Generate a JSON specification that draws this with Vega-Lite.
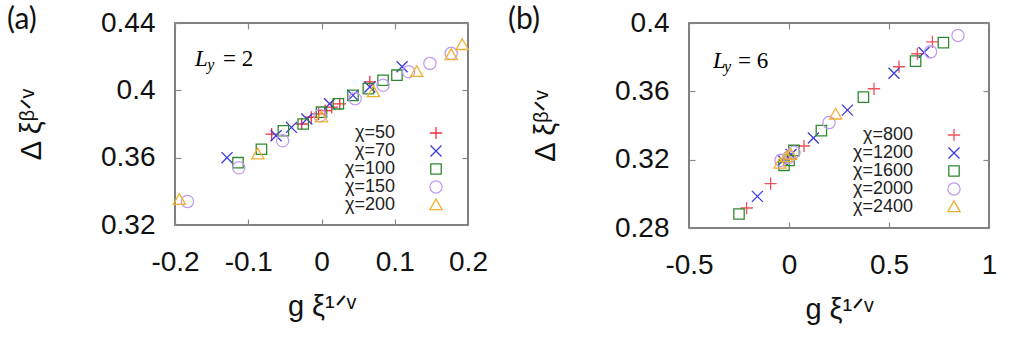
{
  "$schema": "https://vega.github.io/schema/vega-lite/v6.json",
  "background": "white",
  "padding": {"left": 6, "top": 4, "right": 5, "bottom": 2},
  "datasets": {
    "a": [
      {"chi": "χ=50", "x": -0.068, "y": 0.374},
      {"chi": "χ=50", "x": -0.027, "y": 0.380},
      {"chi": "χ=50", "x": -0.014, "y": 0.384},
      {"chi": "χ=50", "x": -0.004, "y": 0.386},
      {"chi": "χ=50", "x": 0.005, "y": 0.388},
      {"chi": "χ=50", "x": 0.014, "y": 0.390},
      {"chi": "χ=50", "x": 0.025, "y": 0.392},
      {"chi": "χ=50", "x": 0.066, "y": 0.405},
      {"chi": "χ=70", "x": -0.129, "y": 0.360},
      {"chi": "χ=70", "x": -0.062, "y": 0.373},
      {"chi": "χ=70", "x": -0.041, "y": 0.378},
      {"chi": "χ=70", "x": -0.020, "y": 0.383},
      {"chi": "χ=70", "x": 0.011, "y": 0.392},
      {"chi": "χ=70", "x": 0.043, "y": 0.397},
      {"chi": "χ=70", "x": 0.066, "y": 0.402},
      {"chi": "χ=70", "x": 0.110, "y": 0.414},
      {"chi": "χ=100", "x": -0.114, "y": 0.357},
      {"chi": "χ=100", "x": -0.082, "y": 0.365},
      {"chi": "χ=100", "x": -0.052, "y": 0.376},
      {"chi": "χ=100", "x": -0.025, "y": 0.380},
      {"chi": "χ=100", "x": 0.000, "y": 0.387},
      {"chi": "χ=100", "x": 0.023, "y": 0.392},
      {"chi": "χ=100", "x": 0.043, "y": 0.397},
      {"chi": "χ=100", "x": 0.064, "y": 0.401},
      {"chi": "χ=100", "x": 0.084, "y": 0.406},
      {"chi": "χ=100", "x": 0.103, "y": 0.409},
      {"chi": "χ=150", "x": -0.183, "y": 0.334},
      {"chi": "χ=150", "x": -0.113, "y": 0.354},
      {"chi": "χ=150", "x": -0.053, "y": 0.370},
      {"chi": "χ=150", "x": -0.002, "y": 0.385},
      {"chi": "χ=150", "x": 0.046, "y": 0.395},
      {"chi": "χ=150", "x": 0.084, "y": 0.403},
      {"chi": "χ=150", "x": 0.119, "y": 0.411},
      {"chi": "χ=150", "x": 0.148, "y": 0.416},
      {"chi": "χ=150", "x": 0.177, "y": 0.422},
      {"chi": "χ=200", "x": -0.194, "y": 0.335},
      {"chi": "χ=200", "x": -0.087, "y": 0.362},
      {"chi": "χ=200", "x": 0.000, "y": 0.384},
      {"chi": "χ=200", "x": 0.071, "y": 0.399},
      {"chi": "χ=200", "x": 0.130, "y": 0.411},
      {"chi": "χ=200", "x": 0.177, "y": 0.421},
      {"chi": "χ=200", "x": 0.192, "y": 0.427}
    ],
    "b": [
      {"chi": "χ=800", "x": -0.212, "y": 0.2917},
      {"chi": "χ=800", "x": -0.092, "y": 0.306},
      {"chi": "χ=800", "x": -0.010, "y": 0.3205},
      {"chi": "χ=800", "x": 0.075, "y": 0.328},
      {"chi": "χ=800", "x": 0.425, "y": 0.3615},
      {"chi": "χ=800", "x": 0.550, "y": 0.3744},
      {"chi": "χ=800", "x": 0.642, "y": 0.382},
      {"chi": "χ=800", "x": 0.717, "y": 0.389},
      {"chi": "χ=1200", "x": -0.158, "y": 0.2985},
      {"chi": "χ=1200", "x": -0.030, "y": 0.3195},
      {"chi": "χ=1200", "x": 0.010, "y": 0.323},
      {"chi": "χ=1200", "x": 0.122, "y": 0.3327},
      {"chi": "χ=1200", "x": 0.292, "y": 0.349},
      {"chi": "χ=1200", "x": 0.525, "y": 0.3706},
      {"chi": "χ=1200", "x": 0.675, "y": 0.3827},
      {"chi": "χ=1600", "x": -0.250, "y": 0.2882},
      {"chi": "χ=1600", "x": -0.025, "y": 0.3167},
      {"chi": "χ=1600", "x": 0.000, "y": 0.3196},
      {"chi": "χ=1600", "x": 0.025, "y": 0.3254},
      {"chi": "χ=1600", "x": 0.162, "y": 0.337},
      {"chi": "χ=1600", "x": 0.372, "y": 0.3566},
      {"chi": "χ=1600", "x": 0.633, "y": 0.3777},
      {"chi": "χ=1600", "x": 0.772, "y": 0.3885},
      {"chi": "χ=2000", "x": -0.040, "y": 0.3196},
      {"chi": "χ=2000", "x": 0.000, "y": 0.3215},
      {"chi": "χ=2000", "x": 0.025, "y": 0.3244},
      {"chi": "χ=2000", "x": 0.200, "y": 0.3417},
      {"chi": "χ=2000", "x": 0.708, "y": 0.3831},
      {"chi": "χ=2000", "x": 0.845, "y": 0.3927},
      {"chi": "χ=2400", "x": -0.045, "y": 0.3177},
      {"chi": "χ=2400", "x": -0.013, "y": 0.3215},
      {"chi": "χ=2400", "x": 0.008, "y": 0.323},
      {"chi": "χ=2400", "x": 0.233, "y": 0.3465}
    ]
  },
  "hconcat": [
    {
      "width": 293,
      "height": 202,
      "title": {"text": "(a)", "dx": -168, "offset": -26},
      "layer": [
        {
          "data": {"name": "a"},
          "mark": {"type": "point", "filled": false, "strokeWidth": 1.3, "size": 150, "opacity": 1},
          "encoding": {
            "x": {"field": "x", "type": "quantitative",
                  "scale": {"domain": [-0.2, 0.2], "nice": false, "zero": false},
                  "axis": {"values": [-0.2, -0.1, 0, 0.1, 0.2], "labelExpr": "'' + datum.value", "title": "g ξ¹ᐟᵛ"}},
            "y": {"field": "y", "type": "quantitative",
                  "scale": {"domain": [0.32, 0.44], "nice": false, "zero": false},
                  "axis": {"values": [0.32, 0.36, 0.4, 0.44], "labelExpr": "'' + datum.value", "title": "Δ ξᵝᐟᵛ"}},
            "color": {"field": "chi", "type": "nominal",
                      "scale": {"domain": ["χ=50", "χ=70", "χ=100", "χ=150", "χ=200"],
                                "range": ["#ee3040", "#3a3ae0", "#2f8a2f", "#c09cf0", "#f0b030"]},
                      "legend": {"orient": "none", "legendX": 252, "legendY": 101, "title": null}},
            "shape": {"field": "chi", "type": "nominal",
                      "scale": {"domain": ["χ=50", "χ=70", "χ=100", "χ=150", "χ=200"],
                                "range": ["M-1,0H1M0,-1V1", "M-0.9,-0.9L0.9,0.9M-0.9,0.9L0.9,-0.9", "M-0.85,-0.85H0.85V0.85H-0.85Z", "circle", "M0,-1L1,0.75H-1Z"]},
                      "legend": {"orient": "none", "legendX": 252, "legendY": 101, "title": null}}
          }
        },
        {
          "data": {"values": [{}]},
          "mark": {"type": "text", "text": "L", "font": "Liberation Serif", "fontStyle": "italic", "fontSize": 23, "align": "left", "baseline": "alphabetic"},
          "encoding": {
            "x": {"datum": -0.1727, "type": "quantitative",
                  "scale": {"domain": [-0.2, 0.2], "nice": false, "zero": false},
                  "axis": {"orient": "top", "values": [-0.2, -0.1, 0, 0.1, 0.2], "labels": false, "title": null}},
            "y": {"datum": 0.4145, "type": "quantitative",
                  "scale": {"domain": [0.32, 0.44], "nice": false, "zero": false},
                  "axis": {"orient": "right", "values": [0.32, 0.36, 0.4, 0.44], "labels": false, "title": null}}
          }
        },
        {
          "data": {"values": [{}]},
          "mark": {"type": "text", "text": "y", "font": "Liberation Serif", "fontStyle": "italic", "fontSize": 16, "align": "left", "baseline": "alphabetic"},
          "encoding": {
            "x": {"datum": -0.156, "type": "quantitative", "axis": null},
            "y": {"datum": 0.4118, "type": "quantitative", "axis": null}
          }
        },
        {
          "data": {"values": [{}]},
          "mark": {"type": "text", "text": "=  2", "font": "Liberation Serif", "fontSize": 23, "align": "left", "baseline": "alphabetic"},
          "encoding": {
            "x": {"datum": -0.1345, "type": "quantitative", "axis": null},
            "y": {"datum": 0.4145, "type": "quantitative", "axis": null}
          }
        }
      ],
      "resolve": {"axis": {"x": "independent", "y": "independent"}}
    },
    {
      "width": 300,
      "height": 205,
      "title": {"text": "(b)", "dx": -181, "offset": -26},
      "layer": [
        {
          "data": {"name": "b"},
          "mark": {"type": "point", "filled": false, "strokeWidth": 1.3, "size": 150, "opacity": 1},
          "encoding": {
            "x": {"field": "x", "type": "quantitative",
                  "scale": {"domain": [-0.5, 1], "nice": false, "zero": false},
                  "axis": {"values": [-0.5, 0, 0.5, 1], "labelExpr": "'' + datum.value", "title": "g ξ¹ᐟᵛ"}},
            "y": {"field": "y", "type": "quantitative",
                  "scale": {"domain": [0.28, 0.4], "nice": false, "zero": false},
                  "axis": {"values": [0.28, 0.32, 0.36, 0.4], "labelExpr": "'' + datum.value", "title": "Δ ξᵝᐟᵛ"}},
            "color": {"field": "chi", "type": "nominal",
                      "scale": {"domain": ["χ=800", "χ=1200", "χ=1600", "χ=2000", "χ=2400"],
                                "range": ["#f0505e", "#3a3ae0", "#2f8a2f", "#c09cf0", "#f0b030"]},
                      "legend": {"orient": "none", "legendX": 256, "legendY": 103, "title": null}},
            "shape": {"field": "chi", "type": "nominal",
                      "scale": {"domain": ["χ=800", "χ=1200", "χ=1600", "χ=2000", "χ=2400"],
                                "range": ["M-1,0H1M0,-1V1", "M-0.9,-0.9L0.9,0.9M-0.9,0.9L0.9,-0.9", "M-0.85,-0.85H0.85V0.85H-0.85Z", "circle", "M0,-1L1,0.75H-1Z"]},
                      "legend": {"orient": "none", "legendX": 256, "legendY": 103, "title": null}}
          }
        },
        {
          "data": {"values": [{}]},
          "mark": {"type": "text", "text": "L", "font": "Liberation Serif", "fontStyle": "italic", "fontSize": 23, "align": "left", "baseline": "alphabetic"},
          "encoding": {
            "x": {"datum": -0.38, "type": "quantitative",
                  "scale": {"domain": [-0.5, 1], "nice": false, "zero": false},
                  "axis": {"orient": "top", "values": [-0.5, 0, 0.5, 1], "labels": false, "title": null}},
            "y": {"datum": 0.3738, "type": "quantitative",
                  "scale": {"domain": [0.28, 0.4], "nice": false, "zero": false},
                  "axis": {"orient": "right", "values": [0.28, 0.32, 0.36, 0.4], "labels": false, "title": null}}
          }
        },
        {
          "data": {"values": [{}]},
          "mark": {"type": "text", "text": "y", "font": "Liberation Serif", "fontStyle": "italic", "fontSize": 16, "align": "left", "baseline": "alphabetic"},
          "encoding": {
            "x": {"datum": -0.325, "type": "quantitative", "axis": null},
            "y": {"datum": 0.3711, "type": "quantitative", "axis": null}
          }
        },
        {
          "data": {"values": [{}]},
          "mark": {"type": "text", "text": "=  6", "font": "Liberation Serif", "fontSize": 23, "align": "left", "baseline": "alphabetic"},
          "encoding": {
            "x": {"datum": -0.255, "type": "quantitative", "axis": null},
            "y": {"datum": 0.3738, "type": "quantitative", "axis": null}
          }
        }
      ],
      "resolve": {"axis": {"x": "independent", "y": "independent"}}
    }
  ],
  "spacing": 18,
  "resolve": {
    "scale": {"color": "independent", "shape": "independent"},
    "legend": {"color": "independent", "shape": "independent"}
  },
  "config": {
    "font": "Liberation Sans",
    "view": {"stroke": "#555555", "strokeWidth": 1.5},
    "axis": {
      "domain": false, "grid": false, "labelFlush": false,
      "tickSize": -6, "tickColor": "#8a8a8a", "tickWidth": 1.2,
      "labelFont": "Liberation Sans", "labelFontSize": 28, "labelColor": "#111111",
      "titleFont": "Liberation Sans", "titleFontSize": 29, "titleFontWeight": "normal", "titleColor": "#111111"
    },
    "axisX": {"labelPadding": 29, "titlePadding": 16},
    "axisY": {"labelPadding": 26, "titlePadding": 54},
    "legend": {
      "labelFont": "Liberation Sans", "labelFontSize": 18, "labelColor": "#222222",
      "labelAlign": "right", "labelOffset": -50, "labelLimit": 0,
      "symbolSize": 150, "symbolStrokeWidth": 1.3, "symbolFillColor": "transparent",
      "rowPadding": -4, "padding": 0
    },
    "title": {"font": "Lato", "fontSize": 30, "fontWeight": "normal", "color": "#111111", "anchor": "start", "frame": "group"}
  }
}
